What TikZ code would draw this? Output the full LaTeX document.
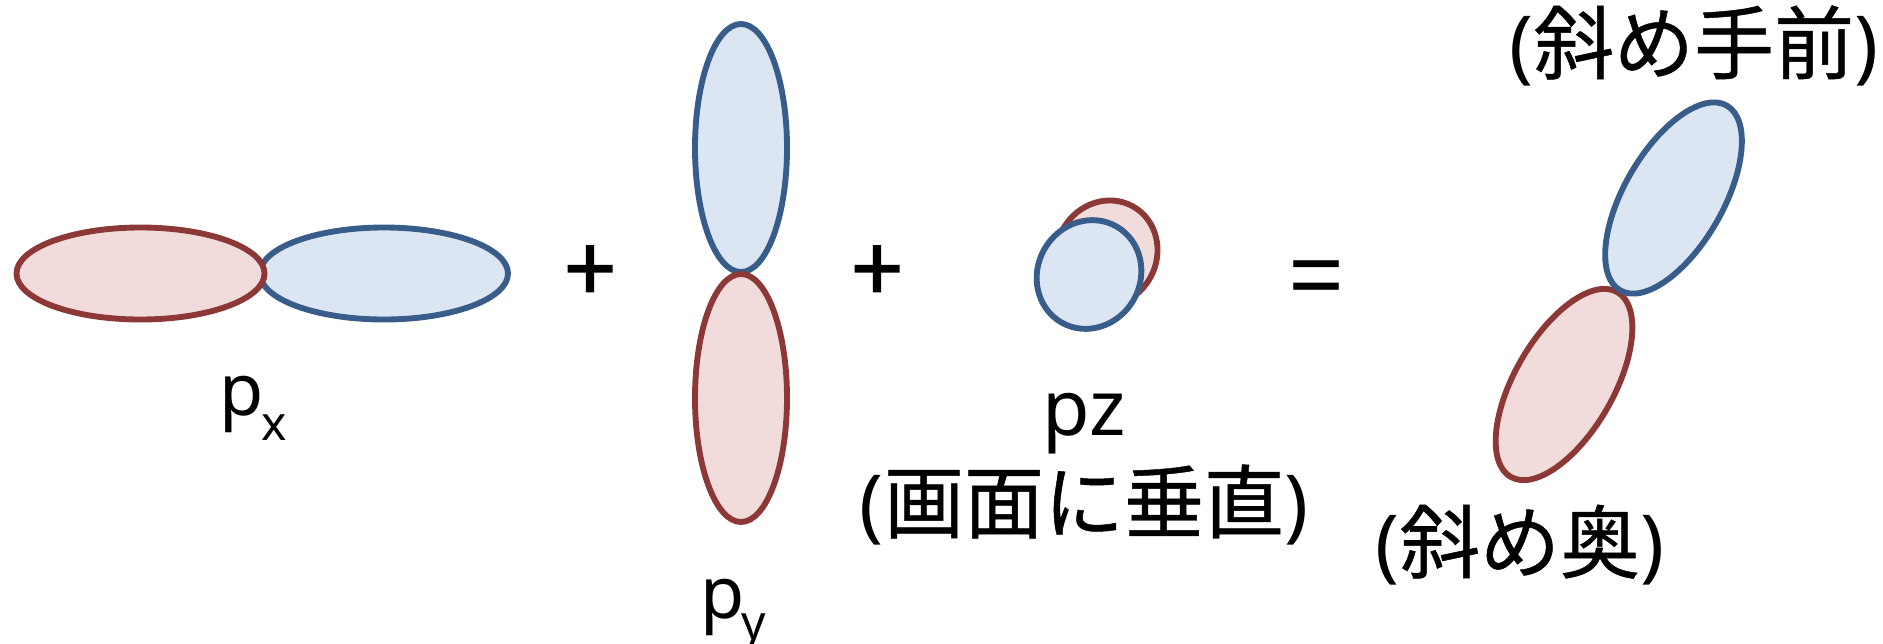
\documentclass[tikz,border=0pt]{standalone}
\usepackage{fontspec}
\setmainfont{Noto Sans}
\newfontfamily\cjk[FakeBold=0.6]{Noto Sans CJK JP}
\newfontfamily\opfont[FakeBold=1.6]{Noto Sans CJK JP}
\usetikzlibrary{shapes.geometric}
\definecolor{redline}{HTML}{8C3836}
\definecolor{redfill}{HTML}{F2DCDB}
\definecolor{blueline}{HTML}{385D8A}
\definecolor{bluefill}{HTML}{DCE6F2}
\tikzset{
  lobe/.style={ellipse,inner sep=0pt,outer sep=0pt,line width=4.4pt},
  redlobe/.style={lobe,draw=redline,fill=redfill},
  bluelobe/.style={lobe,draw=blueline,fill=bluefill},
  lab/.style={inner sep=0pt,outer sep=0pt,font=\fontsize{58pt}{58pt}\selectfont,anchor=base},
  op/.style={inner sep=0pt,outer sep=0pt,font=\opfont\fontsize{68pt}{68pt}\selectfont},
  opeq/.style={inner sep=0pt,outer sep=0pt,font=\cjk\fontsize{70pt}{70pt}\selectfont},
}
\newcommand{\zk}[1]{{\cjk\fontsize{60pt}{60pt}\selectfont #1}}
\newcommand{\lb}{{\fontsize{60pt}{60pt}\selectfont (}\kern0.5pt}
\newcommand{\rb}{\kern0.5pt{\fontsize{60pt}{60pt}\selectfont )}}
\newcommand{\psub}[2]{{\fontsize{54pt}{54pt}\selectfont p}\kern-2pt\raisebox{#2}{\fontsize{36pt}{36pt}\selectfont #1}}
\begin{document}
\begin{tikzpicture}[x=0.75pt,y=-0.75pt]
\useasboundingbox (0,0) rectangle (1883,643);
% px
\node[bluelobe,minimum width=186pt,minimum height=69pt] (pxb) at (384,273.5) {};
\node[redlobe,minimum width=186pt,minimum height=69pt] (pxr) at (140.5,273.5) {};
% py
\node[bluelobe,minimum width=69pt,minimum height=186pt] (pyb) at (741,148) {};
\node[redlobe,minimum width=69pt,minimum height=186pt] (pyr) at (741,398) {};
% pz
\node[redlobe,minimum width=81pt,minimum height=75pt,rotate=60] (pzr) at (1106.5,253.5) {};
\node[bluelobe,minimum width=83pt,minimum height=77pt,rotate=60] (pzb) at (1089,274.5) {};
% diagonal
\node[redlobe,minimum width=160pt,minimum height=74pt,rotate=60] (dr) at (1564,384.5) {};
\node[bluelobe,minimum width=160pt,minimum height=74pt,rotate=60] (db) at (1673.5,198) {};
% operators
\node[op] (plusa) at (590,274) {+};
\node[op] (plusb) at (877,274) {+};
\node[opeq] (eq) at (1316,285) {=};
% labels
\node[lab,anchor=base west] (lx) at (219.5,415) {\psub{x}{-19pt}};
\node[lab,anchor=base west] (ly) at (700,618) {\psub{y}{-16pt}};
\node[lab] (lz) at (1084,435) {pz};
\node[lab] (lzb) at (1084,532) {\lb\zk{画面に垂直}\rb};
\node[lab] (lfront) at (1694,73) {\lb\zk{斜め手前}\rb};
\node[lab] (lback) at (1520,572) {\lb\zk{斜め奥}\rb};
\end{tikzpicture}
\end{document}
